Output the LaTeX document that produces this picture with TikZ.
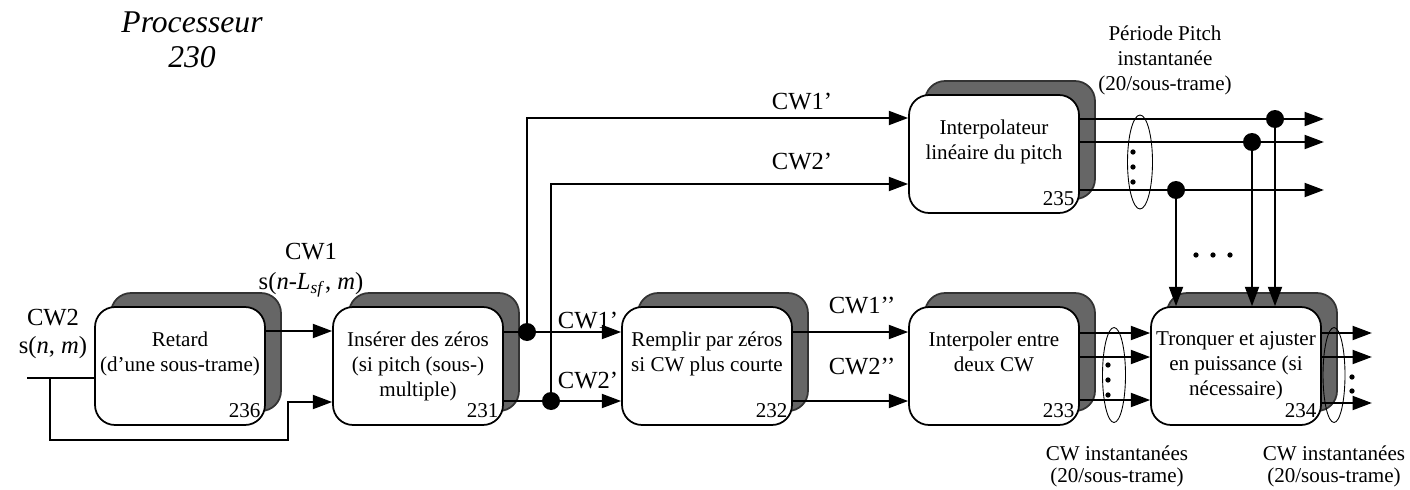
\documentclass[tikz,border=0pt]{standalone}
\usepackage{fontspec}
\setmainfont{Liberation Serif}
\usetikzlibrary{arrows.meta,shapes.geometric}
\newcommand{\procbox}[4]{%
    \node[boxshadow] at ([shift={(16,-14)}]#2) {};
    \node[blk] (#1) at (#2) {};
    \node[blktext] at ([shift={(0,25)}]#1.north) {#3};
    \node[blknum] at ([shift={(-5,-8)}]#1.south east) {#4};}

\begin{document}
\begin{tikzpicture}[x=0.02cm, y=-0.02cm,
    blk/.style={draw, line width=1pt, rounded corners=0.4cm, fill=white,
        minimum width=3.4cm, minimum height=2.36cm, inner sep=0pt},
    boxshadow/.style={blk, draw=black!80, fill=black!60},
    blktext/.style={anchor=north, align=center, inner sep=0pt,
        font=\fontsize{12}{14.2}\selectfont},
    blknum/.style={anchor=base east, inner sep=0pt, font=\fontsize{12}{14}\selectfont},
    sig/.style={align=center, inner sep=1pt, font=\fontsize{14}{16}\selectfont},
    note/.style={align=center, inner sep=0pt, font=\fontsize{12}{12.5}\selectfont},
    wire/.style={line width=1pt},
    arr/.style={-{Triangle[length=11pt,width=8pt]}},
    jdot/.style={circle, fill, inner sep=0pt, minimum size=0.36cm},
    bundle/.style={draw, ellipse, line width=0.5pt, inner sep=0pt}]
    \useasboundingbox (0,0) rectangle (1410,490);

    \node[align=center, font=\fontsize{18}{20}\selectfont\itshape] (proc) at (192,40) {Processeur\\230};

    % blocs
    \procbox{b236}{180,366}{Retard\\(d'une sous-trame)}{236}
    \procbox{b231}{418,366}{Insérer des zéros\\(si pitch (sous-)\\multiple)}{231}
    \procbox{b232}{707,366}{Remplir par zéros\\si CW plus courte}{232}
    \procbox{b233}{994,366}{Interpoler entre\\deux CW}{233}
    \procbox{b234}{1236,366}{Tronquer et ajuster\\en puissance (si\\nécessaire)}{234}
    \procbox{b235}{994,154}{Interpolateur\\linéaire du pitch}{235}

    % entree
    \coordinate (in) at (27,378);
    \coordinate (br) at (50,378);
    \coordinate (bend) at (288,440);
    \draw[wire] (in) -- (in -| b236.west);
    \draw[wire,arr] (br) |- (bend) |- ([shift={(0,36)}]b231.west);
    \draw[wire,arr] ([shift={(0,-35)}]b236.east) -- ([shift={(0,-35)}]b231.west);
    \node[sig] (lcw2) at (53,334) {CW2\\s(\textit{n}, \textit{m})};
    \node[sig] (lcw1) at (311,270) {CW1\\[1pt]s(\textit{n}-\textit{L}\textsubscript{\textit{sf}}, \textit{m})};

    % CW1' et CW2'
    \node[jdot] (j1) at (527,332) {};
    \node[jdot] (j2) at (551,401) {};
    \draw[wire] ([shift={(0,-34)}]b231.east) -- (j1);
    \draw[wire] ([shift={(0,35)}]b231.east) -- (j2);
    \draw[wire,arr] (j1) -- (j1 -| b232.west);
    \draw[wire,arr] (j2) -- (j2 -| b232.west);
    \draw[wire,arr] (j1) |- ([shift={(0,-36)}]b235.west);
    \draw[wire,arr] (j2) |- ([shift={(0,30)}]b235.west);
    \node[sig] at (588,321) {CW1’};
    \node[sig] at (588,381) {CW2’};
    \node[sig] at (802,102) {CW1’};
    \node[sig] at (802,162) {CW2’};

    % CW1'' et CW2''
    \foreach \dy in {-34,35}
        \draw[wire,arr] ([shift={(0,\dy)}]b232.east) -- ([shift={(0,\dy)}]b233.west);
    \node[sig] at (862,306) {CW1’’};
    \node[sig] at (862,367) {CW2’’};

    % CW instantanees
    \foreach \dy in {-33,-9,34}
        \draw[wire,arr] ([shift={(0,\dy)}]b233.east) -- ([shift={(0,\dy)}]b234.west);
    \node[bundle, minimum width=0.46cm, minimum height=1.9cm] (e1) at (1114,375) {};
    \foreach \y in {365,380,395} \fill (1108,\y) circle (1.5pt);
    \node[note] (n1) at (1117,466) {CW instantanées\\(20/sous-trame)};

    \foreach \dy [count=\i] in {-33,-9,37} {
        \coordinate (o\i) at ([shift={(50,\dy)}]b234.east);
        \draw[wire,arr] ([shift={(0,\dy)}]b234.east) -- (o\i);
    }
    \node[bundle, minimum width=0.44cm, minimum height=1.9cm] (e2) at (1334,375) {};
    \foreach \y in {377,391} \fill (1352,\y) circle (1.5pt);
    \node[note] (n2) at (1334,466) {CW instantanées\\(20/sous-trame)};

    % periode pitch
    \foreach \dy/\jx/\jy [count=\i] in {-35/1275/119,-12/1252/142,36/1176/190} {
        \coordinate (p\i) at ([shift={(244,\dy)}]b235.east);
        \draw[wire,arr] ([shift={(0,\dy)}]b235.east) -- (p\i);
        \node[jdot] (k\i) at (\jx,\jy) {};
        \draw[wire,arr] (k\i) -- (k\i |- b234.north);
    }
    \node[bundle, minimum width=0.5cm, minimum height=1.88cm] (e3) at (1140,162) {};
    \foreach \y in {152,167,182} \fill (1133,\y) circle (1.5pt);
    \foreach \x in {1196,1213,1230} \fill (\x,255) circle (1.5pt);
    \node[note, font=\fontsize{12}{14.2}\selectfont] (n3) at (1165,60) {Période Pitch\\instantanée\\(20/sous-trame)};
\end{tikzpicture}
\end{document}
